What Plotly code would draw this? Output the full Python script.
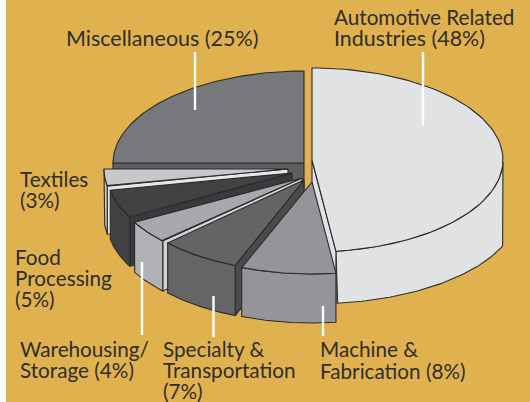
import numpy as np
import plotly.graph_objects as go

# Data
categories = ["Automotive Related Industries", "Machine & Fabrication", "Specialty & Transportation",
              "Warehousing/Storage", "Food Processing", "Textiles", "Miscellaneous"]
shares = [48, 8, 7, 4, 5, 3, 25]
label_text = ["Automotive Related", "Industries (48%)", "Miscellaneous (25%)", "Textiles", "(3%)",
              "Food", "Processing", "(5%)", "Warehousing/", "Storage (4%)",
              "Specialty &", "Transportation", "(7%)", "Machine &", "Fabrication (8%)"]

# Style and layout
top_colors = ["#e1e2e4", "#939598", "#636466", "#a7a9ac", "#414244", "#c7c8ca", "#77787b"]
wall_colors = ["#e1e2e4", "#939598", "#646567", "#b1b2b5", "#414244", "#c7c8ca", "#77787b"]
face_colors = ["#e1e2e4", None, "#4a4a4c", "#d1d3d4", "#3a3a3c", "#e6e7e8", "#5f5f61"]
CX, CY, RX, RY = 312, 160, 191, 92
explode_x = [0, 0, -8, -10, -20, -24, -8]
explode_y = [0, 22, 20, 18, 13, 9, 3]
radius_trim = [0, 0, 4, 0, 6, 7, 0]
depths = [53, 49, 50, 50, 49, 48, 49]
draw_order = [0, 6, 5, 4, 3, 2, 1]
INK = "#2b2b2b"
GOLD = "#e0b24f"
label_x = [333, 333, 65, 19, 19, 14, 14, 14, 19, 19, 162, 162, 162, 319, 319]
label_y = [17, 38, 38, 179, 200, 257, 278, 299, 349, 370, 349, 370, 391, 349, 371]
label_size = [20.7, 21.4, 21.5, 20.7, 20.7, 20.7, 20.7, 20.7, 20.7, 20.7, 20.7, 20.7, 20.7, 20.7, 20.7]
leader_x = [423, 195, 323, 213.5, 142]
leader_top = [52, 52, 306, 296, 262]
leader_bottom = [126, 110, 336, 337, 335]

fig = go.Figure()


def poly(xs, ys, color, name, width=1.1):
    fig.add_trace(go.Scatter(x=xs, y=ys, mode="lines", fill="toself", fillcolor=color,
                             line=dict(color=INK, width=width), hoverinfo="skip",
                             showlegend=False, name=name))


edges = 90 - 3.6 * np.concatenate([[0], np.cumsum(shares)])
for i in draw_order:
    t0, t1 = edges[i], edges[i + 1]
    ax, ay, rx, d = CX + explode_x[i], CY + explode_y[i], RX - radius_trim[i], depths[i]
    t = np.radians(np.linspace(t0, t1, 90))
    ox, oy = ax + rx * np.cos(t), ay - RY * np.sin(t)
    name = categories[i]
    if i == 0:
        # Large slice: side wall, then the cut face on its left, then the top
        low = t <= 0
        wx = ox[low]
        wy = oy[low]
        bt = np.radians(np.linspace(20, t1, 90))
        bx, by = ax + 205 * np.cos(bt), ay + 52 - RY * np.sin(bt)
        keep = bx <= wx.max()
        poly(np.r_[wx, bx[keep][::-1], wx[0]], np.r_[wy, by[keep][::-1], wy[0]], wall_colors[i], name)
        poly([ax, ox[-1], ox[-1], ax, ax], [ay, oy[-1], oy[-1] + d, ay + d, ay], face_colors[i], name)
    else:
        if face_colors[i]:
            poly([ax, ox[0], ox[0], ax, ax], [ay, oy[0], oy[0] + d, ay + d, ay], face_colors[i], name)
        if i != 6:
            poly(np.r_[ox, ox[::-1], ox[0]], np.r_[oy, oy[::-1] + d, oy[0]], wall_colors[i], name)
    poly(np.r_[ax, ox, ax], np.r_[ay, oy, ay], top_colors[i], name)

shapes = [dict(type="rect", x0=0, x1=6, y0=0, y1=402, fillcolor="white", line_width=0, layer="below")]
for x, y0, y1 in zip(leader_x, leader_top, leader_bottom):
    shapes.append(dict(type="line", x0=x, x1=x, y0=y0, y1=y1, line=dict(color="white", width=2.4)))

annotations = [dict(text=s, x=x, y=y, xref="x", yref="y", xanchor="left", yanchor="middle",
                    showarrow=False, borderpad=0, font=dict(family="Lato", size=z, color="#2f2d2a"))
               for s, x, y, z in zip(label_text, label_x, label_y, label_size)]

fig.update_layout(
    width=530, height=402, margin=dict(l=0, r=0, t=0, b=0), autosize=False,
    paper_bgcolor=GOLD, plot_bgcolor=GOLD, showlegend=False,
    xaxis=dict(range=[0, 530], visible=False, fixedrange=True),
    yaxis=dict(range=[402, 0], visible=False, fixedrange=True),
    shapes=shapes, annotations=annotations,
)
fig.write_html("out.html", config={"displayModeBar": False},
               post_script="document.body.style.margin='0';document.body.style.overflow='hidden';")
